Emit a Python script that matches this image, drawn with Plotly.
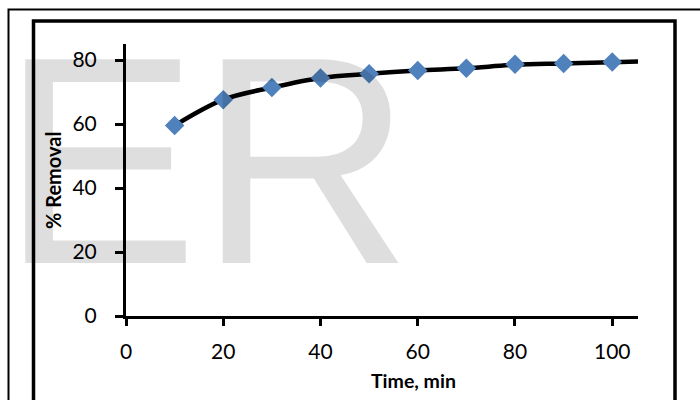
import plotly.graph_objects as go

# Data
time_min = [10, 20, 30, 40, 50, 60, 70, 80, 90, 100]
removal_pct = [59.5, 67.6, 71.4, 74.4, 75.7, 76.7, 77.4, 78.7, 78.9, 79.4]
# smoothed fitted curve (extends slightly beyond last point)
curve_time = [10, 20, 30, 40, 50, 60, 70, 80, 90, 100, 105.5]
curve_removal = [59.5, 67.6, 71.4, 74.4, 75.7, 76.7, 77.4, 78.5, 78.9, 79.3, 79.5]
x_ticks = [0, 20, 40, 60, 80, 100]
y_ticks = [0, 20, 40, 60, 80]

W, H = 700, 400
L, R, T, B = 126, 62, 44, 84
pw, ph = W - L - R, H - T - B

def px(x):
    return (x - L) / pw

def py(y):
    return (H - B - y) / ph

fig = go.Figure()
fig.add_trace(go.Scatter(x=curve_time, y=curve_removal, mode="lines",
                         line=dict(color="black", width=4.5, shape="spline", smoothing=1),
                         hoverinfo="skip", showlegend=False))
fig.add_trace(go.Scatter(x=time_min, y=removal_pct, mode="markers",
                         marker=dict(symbol="diamond", size=15, color="#4F81BD",
                                     line=dict(width=0)),
                         showlegend=False))

font_fam = "Lato, 'Open Sans', sans-serif"
fig.update_layout(
    width=W, height=H,
    margin=dict(l=L, r=R, t=T, b=B, pad=0),
    paper_bgcolor="white", plot_bgcolor="white",
    font=dict(family=font_fam, color="black", size=21),
    xaxis=dict(range=[0, 105.3], tickvals=x_ticks, showgrid=False, zeroline=False,
               showline=True, linecolor="black", linewidth=3,
               ticks="outside", ticklen=7, tickwidth=3, tickcolor="black",
               ticklabelstandoff=8),
    yaxis=dict(range=[0, 85], tickvals=y_ticks, showgrid=False, zeroline=False,
               showline=True, linecolor="black", linewidth=3,
               ticks="outside", ticklen=8, tickwidth=3, tickcolor="black",
               ticklabelstandoff=14),
    shapes=[
        dict(type="rect", xref="paper", yref="paper",
             x0=px(8.5), x1=px(720), y0=py(9.5), y1=py(420),
             line=dict(color="black", width=2), fillcolor="rgba(0,0,0,0)", layer="above"),
        dict(type="rect", xref="paper", yref="paper",
             x0=px(33.5), x1=px(675), y0=py(21), y1=py(420),
             line=dict(color="black", width=3.5), fillcolor="rgba(0,0,0,0)", layer="above"),
    ],
    annotations=[
        dict(text="<b>Time, min</b>", xref="paper", yref="paper", x=px(413), y=py(380),
             xanchor="center", yanchor="middle", showarrow=False,
             font=dict(size=19.5)),
        dict(text="<b>% Removal</b>", xref="paper", yref="paper", x=px(53), y=py(181),
             xanchor="center", yanchor="middle", showarrow=False, textangle=-90,
             font=dict(size=20)),
        dict(text="ER", xref="paper", yref="paper", x=px(0), y=py(-6),
             xanchor="left", yanchor="top", showarrow=False, borderpad=0,
             font=dict(family="Liberation Sans, Arial, sans-serif", size=296,
                       color="rgba(0,0,0,0.13)")),
    ],
)

fig.write_html("out.html")
